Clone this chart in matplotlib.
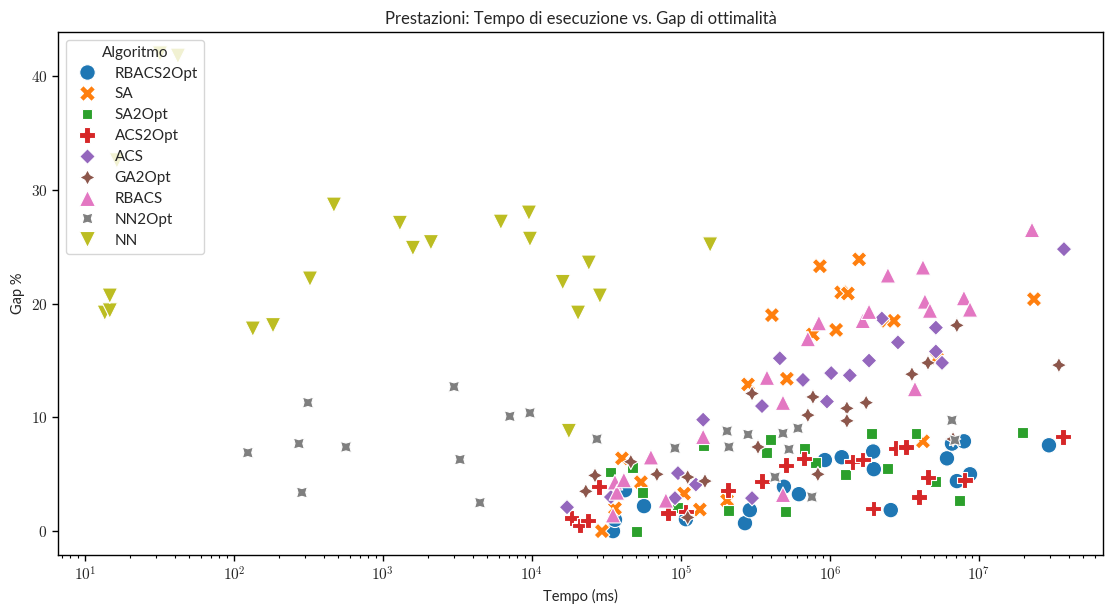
import numpy as np
import pandas as pd
import matplotlib
matplotlib.use("Agg")
import matplotlib.pyplot as plt
import seaborn as sns
from matplotlib.ticker import FuncFormatter, FixedLocator

algorithms = ["RBACS2Opt", "SA", "SA2Opt", "ACS2Opt", "ACS", "GA2Opt", "RBACS", "NN2Opt", "NN"]

rbacs2opt_time = [3.5e4, 3.61e4, 4.21e4, 5.65e4, 1.08e5, 2.69e5, 2.90e5, 4.91e5, 6.19e5, 9.25e5,
                  1.20e6, 1.95e6, 1.97e6, 2.56e6, 6.10e6, 6.59e6, 7.93e6, 7.11e6, 8.71e6, 2.95e7]
rbacs2opt_gap = [0.0, 1.0, 3.6, 2.2, 1.05, 0.7, 1.85, 3.9, 3.25, 6.25,
                 6.5, 7.0, 5.45, 1.85, 6.4, 7.7, 7.9, 4.4, 5.0, 7.55]

sa_time = [2.95e4, 3.61e4, 4.02e4, 5.39e4, 1.05e5, 1.34e5, 2.04e5, 2.82e5, 4.08e5, 5.14e5, 7.69e5,
           8.57e5, 1.10e6, 1.19e6, 1.32e6, 1.57e6, 2.41e6, 2.69e6, 4.21e6, 5.22e6, 2.34e7]
sa_gap = [0.0, 2.0, 6.4, 4.3, 3.3, 1.9, 2.7, 12.9, 19.0, 13.4, 17.3,
          23.3, 17.7, 21.0, 20.9, 23.9, 18.5, 18.5, 7.9, 15.2, 20.4]

sa2opt_time = [3.39e4, 4.76e4, 5.07e4, 5.56e4, 9.55e4, 1.41e5, 2.07e5, 3.78e5, 4.02e5, 5.07e5,
               6.70e5, 8.05e5, 1.28e6, 1.91e6, 2.45e6, 3.78e6, 5.14e6, 7.35e6, 1.95e7]
sa2opt_gap = [5.2, 5.6, 0.0, 3.4, 2.1, 7.5, 1.85, 6.9, 8.1, 1.7,
              7.3, 6.0, 5.0, 8.6, 5.5, 8.6, 4.4, 2.7, 8.7]

acs2opt_time = [1.85e4, 2.10e4, 2.38e4, 2.82e4, 8.18e4, 1.08e5, 2.07e5, 3.50e5, 5.07e5, 6.70e5,
                1.41e6, 1.66e6, 1.95e6, 2.77e6, 3.24e6, 3.96e6, 4.55e6, 8.05e6, 3.66e7]
acs2opt_gap = [1.15, 0.5, 0.95, 3.9, 1.6, 1.7, 3.6, 4.4, 5.8, 6.4,
               6.1, 6.3, 2.0, 7.3, 7.4, 3.0, 4.75, 4.5, 8.3]

acs_time = [1.72e4, 3.39e4, 9.12e4, 9.55e4, 1.26e5, 1.41e5, 3.00e5, 3.50e5, 4.61e5, 6.59e5,
            9.55e5, 1.02e6, 1.36e6, 1.83e6, 2.23e6, 2.86e6, 5.14e6, 5.14e6, 5.65e6, 3.72e7]
acs_gap = [2.1, 3.0, 2.9, 5.1, 4.1, 9.8, 2.9, 11.0, 15.2, 13.3,
           11.4, 13.9, 13.7, 15.0, 18.7, 16.6, 17.9, 15.8, 14.8, 24.8]

ga2opt_time = [2.30e4, 2.65e4, 4.61e4, 6.90e4, 1.11e5, 1.11e5, 1.45e5, 3.00e5, 3.29e5, 7.11e5,
               7.69e5, 8.30e5, 1.30e6, 1.30e6, 1.75e6, 3.55e6, 4.55e6, 6.70e6, 7.11e6, 3.44e7]
ga2opt_gap = [3.5, 4.9, 6.1, 5.0, 4.75, 1.2, 4.4, 12.1, 7.4, 10.2,
              11.8, 5.0, 10.8, 9.7, 11.3, 13.8, 14.8, 8.1, 18.1, 14.6]

rbacs_time = [3.50e4, 3.61e4, 3.72e4, 4.14e4, 6.29e4, 7.93e4, 1.41e5, 3.78e5, 4.84e5, 4.84e5, 7.11e5,
              8.43e5, 1.66e6, 1.83e6, 2.45e6, 3.72e6, 4.21e6, 4.34e6, 4.69e6, 7.93e6, 8.71e6, 2.27e7]
rbacs_gap = [1.4, 4.3, 3.4, 4.5, 6.5, 2.7, 8.3, 13.5, 11.3, 3.2, 16.9,
             18.3, 18.5, 19.3, 22.5, 12.5, 23.2, 20.2, 19.4, 20.5, 19.5, 26.5]

nn2opt_time = [124, 273, 286, 314, 565, 3.0e3, 3.29e3, 4.48e3, 7.11e3, 9.70e3, 2.73e4,
               9.12e4, 2.04e5, 2.10e5, 2.82e5, 4.28e5, 4.84e5, 5.31e5, 6.10e5, 7.57e5, 6.59e6, 6.90e6]
nn2opt_gap = [6.9, 7.7, 3.4, 11.3, 7.4, 12.7, 6.3, 2.5, 10.1, 10.4, 8.1,
              7.3, 8.8, 7.4, 8.5, 4.75, 8.6, 7.2, 9.05, 3.0, 9.75, 8.0]

nn_time = [13.6, 14.7, 14.7, 16.4, 31.9, 42.1, 134, 183, 324, 469, 1.30e3, 1.59e3, 2.10e3,
           6.19e3, 9.55e3, 9.70e3, 1.61e4, 1.77e4, 2.04e4, 2.41e4, 2.86e4, 1.57e5]
nn_gap = [19.2, 19.4, 20.7, 32.6, 42.0, 41.8, 17.8, 18.1, 22.2, 28.7, 27.1, 24.9, 25.4,
          27.2, 28.0, 25.7, 21.9, 8.8, 19.2, 23.6, 20.7, 25.2]

x_ticks = [1e1, 1e2, 1e3, 1e4, 1e5, 1e6, 1e7]
y_ticks = [0, 10, 20, 30, 40]

series = {
    "RBACS2Opt": (rbacs2opt_time, rbacs2opt_gap),
    "SA": (sa_time, sa_gap),
    "SA2Opt": (sa2opt_time, sa2opt_gap),
    "ACS2Opt": (acs2opt_time, acs2opt_gap),
    "ACS": (acs_time, acs_gap),
    "GA2Opt": (ga2opt_time, ga2opt_gap),
    "RBACS": (rbacs_time, rbacs_gap),
    "NN2Opt": (nn2opt_time, nn2opt_gap),
    "NN": (nn_time, nn_gap),
}
rows = []
for name in algorithms:
    t, g = series[name]
    for a, b in zip(t, g):
        rows.append({"Tempo": a, "Gap": b, "Algoritmo": name})
df = pd.DataFrame(rows)

sns.set_theme(style="ticks")
plt.rcParams["font.family"] = ["Lato", "DejaVu Sans"]
plt.rcParams["mathtext.fontset"] = "cm"

fig = plt.figure(figsize=(11.05, 6.06), dpi=100)
ax = fig.add_axes([58 / 1105, 1 - 555 / 606, (1103 - 58) / 1105, (555 - 32) / 606])

sns.scatterplot(data=df, x="Tempo", y="Gap", hue="Algoritmo", style="Algoritmo",
                hue_order=algorithms, style_order=algorithms, palette="tab10", s=125, ax=ax,
                edgecolor="white", linewidth=0.8)
ax.set_xscale("log")
ax.set_xlim(6.6, 6.8e7)
ax.set_ylim(-2.1, 43.9)
ax.xaxis.set_major_locator(FixedLocator(x_ticks))
ax.xaxis.set_major_formatter(FuncFormatter(lambda v, p: r"$10^{%d}$" % round(np.log10(v))))
ax.yaxis.set_major_locator(FixedLocator(y_ticks))
ax.yaxis.set_major_formatter(FuncFormatter(lambda v, p: r"$%d$" % v))
ax.tick_params(axis="both", which="major", labelsize=11, length=4, width=1, color="black")
ax.tick_params(axis="x", which="minor", length=2, width=0.8, color="black")
for sp in ax.spines.values():
    sp.set_color("black")
    sp.set_linewidth(1.0)

ax.set_title("Prestazioni: Tempo di esecuzione vs. Gap di ottimalità", fontsize=12)
ax.set_xlabel("Tempo (ms)", fontsize=10.5)
ax.set_ylabel("Gap %", fontsize=10.5)

leg = ax.legend(title="Algoritmo", loc="upper left", fontsize=11, title_fontsize=11,
                markerscale=1.0, framealpha=0.8, borderaxespad=0.5, labelspacing=0.45)

fig.savefig("out.png", dpi=100)
